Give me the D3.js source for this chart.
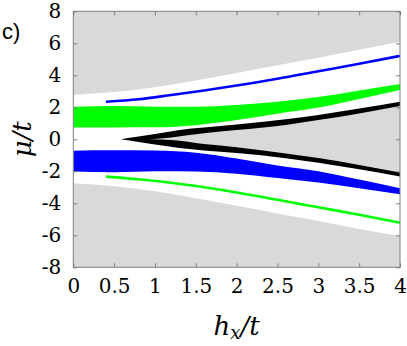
<!DOCTYPE html>
<html>
<head>
<meta charset="utf-8">
<script src="https://cdn.jsdelivr.net/npm/d3@7"></script>
<style>
  body { margin: 0; background: #fff; }
  svg { display: block; }
  .serif { font-family: "DejaVu Serif", "Liberation Serif", serif; }
</style>
</head>
<body>
<div id="chart"></div>
<script>
// boundaries of the gray regions [hx, mu]
var grayTop = [[0, 2.77], [0.5, 2.95], [1.0, 3.25], [1.5, 3.68], [2.0, 4.15], [2.5, 4.63], [3.0, 5.1], [3.5, 5.6], [4.0, 6.1]];
var grayBottom = [[0, -2.75], [0.5, -2.93], [1.0, -3.25], [1.5, -3.68], [2.0, -4.15], [2.5, -4.63], [3.0, -5.1], [3.5, -5.6], [4.0, -6.05]];

// thin lines [hx, mu]
var blueLine = [[0.4, 2.35], [0.8, 2.5], [1.2, 2.77], [1.6, 3.05], [2.0, 3.36], [2.5, 3.78], [3.0, 4.25], [3.5, 4.72], [4.0, 5.21]];
var greenLine = [[0.4, -2.33], [0.8, -2.5], [1.2, -2.72], [1.6, -3.0], [2.0, -3.32], [2.5, -3.78], [3.0, -4.25], [3.5, -4.72], [4.0, -5.21]];

// bands [hx, low, high]
var greenBand = [[0, 0.73, 2.04], [0.5, 0.74, 2.08], [1.0, 0.75, 2.04], [1.5, 0.88, 2.04], [2.0, 1.2, 2.15], [2.5, 1.6, 2.35], [3.0, 1.98, 2.64], [3.5, 2.52, 3.05], [4.0, 3.08, 3.46]];
var blueBand = [[0, -2.02, -0.71], [0.5, -2.06, -0.69], [1.0, -2.0, -0.7], [1.5, -2.02, -0.84], [2.0, -2.15, -1.2], [2.5, -2.42, -1.63], [3.0, -2.7, -2.0], [3.5, -3.06, -2.52], [4.0, -3.44, -3.06]];
var blackWedge = [[0.58, 0, 0], [0.8, -0.17, 0.17], [1.0, -0.33, 0.33], [1.3, -0.55, 0.58], [1.6, -0.7, 0.73], [2.0, -0.86, 0.92], [2.6, -1.18, 1.26], [3.0, -1.46, 1.52], [3.5, -1.87, 1.92], [4.0, -2.33, 2.35]];
var wedgeInside = [[0.94, 0, 0], [1.2, -0.05, 0.12], [1.6, -0.3, 0.38], [2.0, -0.5, 0.58], [2.6, -0.88, 0.9], [3.0, -1.17, 1.2], [3.5, -1.6, 1.62], [4.0, -2.08, 2.08]];

var xTicks = [0, 0.5, 1, 1.5, 2, 2.5, 3, 3.5, 4];
var yTicks = [8, 6, 4, 2, 0, -2, -4, -6, -8];

var W = 407, H = 346;
var margin = {top: 11.3, right: 7, bottom: 78.7, left: 73.3};
var width = W - margin.left - margin.right,
    height = H - margin.top - margin.bottom;

var svg = d3.select("#chart").append("svg")
  .attr("width", W)
  .attr("height", H);

var g = svg.append("g")
  .attr("transform", "translate(" + margin.left + "," + margin.top + ")");

var x = d3.scaleLinear().domain([0, 4]).range([0, width]);
var y = d3.scaleLinear().domain([-8, 8]).range([height, 0]);

var gray = "#d9d9d9";

g.append("defs").append("clipPath").attr("id", "clip")
  .append("rect").attr("width", width).attr("height", height);
var plot = g.append("g").attr("clip-path", "url(#clip)");

// gray regions outside
plot.append("path")
  .datum(grayTop)
  .attr("fill", gray)
  .attr("d", d3.area().curve(d3.curveMonotoneX)
    .x(function(d) { return x(d[0]); })
    .y0(y(8))
    .y1(function(d) { return y(d[1]); }));

plot.append("path")
  .datum(grayBottom)
  .attr("fill", gray)
  .attr("d", d3.area().curve(d3.curveMonotoneX)
    .x(function(d) { return x(d[0]); })
    .y0(y(-8))
    .y1(function(d) { return y(d[1]); }));

var band = d3.area().curve(d3.curveMonotoneX)
  .x(function(d) { return x(d[0]); })
  .y0(function(d) { return y(d[1]); })
  .y1(function(d) { return y(d[2]); });

plot.append("path").datum(greenBand).attr("fill", "#00ff00").attr("d", band);
plot.append("path").datum(blueBand).attr("fill", "#0000ff").attr("d", band);
plot.append("path").datum(blackWedge).attr("fill", "#000").attr("d", band);
plot.append("path").datum(wedgeInside).attr("fill", gray).attr("d", band);

var line = d3.line().curve(d3.curveMonotoneX)
  .x(function(d) { return x(d[0]); })
  .y(function(d) { return y(d[1]); });

plot.append("path").datum(blueLine)
  .attr("fill", "none").attr("stroke", "#0000ff").attr("stroke-width", 2.6).attr("d", line);
plot.append("path").datum(greenLine)
  .attr("fill", "none").attr("stroke", "#00ff00").attr("stroke-width", 2.6).attr("d", line);

// axes, ticks inside on all sides
var axisColor = "#7f7f7f";
var tl = 4;

function styleAxis(sel) {
  sel.attr("font-family", null).attr("font-size", null);
  sel.select(".domain").remove();
  sel.selectAll(".tick line").attr("stroke", axisColor);
  sel.selectAll(".tick text")
    .attr("class", "serif")
    .attr("fill", "#000")
    .style("font-size", "20px");
}

g.append("g").attr("transform", "translate(0," + height + ")")
  .call(d3.axisBottom(x).tickValues(xTicks).tickSizeInner(-tl).tickSizeOuter(0).tickPadding(12)
    .tickFormat(function(d) { return String(d); }))
  .call(styleAxis);

g.append("g")
  .call(d3.axisTop(x).tickValues(xTicks).tickSizeInner(-tl).tickSizeOuter(0).tickFormat(""))
  .call(styleAxis);

g.append("g")
  .call(d3.axisLeft(y).tickValues(yTicks).tickSizeInner(-tl).tickSizeOuter(0).tickPadding(12)
    .tickFormat(function(d) { return d < 0 ? "-" + Math.abs(d) : String(d); }))
  .call(styleAxis);

g.append("g").attr("transform", "translate(" + width + ",0)")
  .call(d3.axisRight(y).tickValues(yTicks).tickSizeInner(-tl).tickSizeOuter(0).tickFormat(""))
  .call(styleAxis);

g.append("rect")
  .attr("width", width)
  .attr("height", height)
  .attr("fill", "none")
  .attr("stroke", axisColor)
  .attr("stroke-width", 1);

// labels
var xl = svg.append("text")
  .attr("class", "serif")
  .attr("x", margin.left + width / 2)
  .attr("y", 335)
  .attr("text-anchor", "middle")
  .style("font-style", "italic")
  .style("font-size", "26px");
xl.append("tspan").text("h");
xl.append("tspan").attr("dy", 4).style("font-size", "18px").text("x");
xl.append("tspan").attr("dy", -4).text("/t");

svg.append("text")
  .attr("class", "serif")
  .attr("transform", "translate(31," + (margin.top + height / 2) + ") rotate(-90)")
  .attr("text-anchor", "middle")
  .style("font-style", "italic")
  .style("font-size", "26px")
  .text("\u03bc/t");

svg.append("text")
  .attr("x", 2)
  .attr("y", 39)
  .style("font-family", "'Liberation Sans', Arial, sans-serif")
  .style("font-size", "22px")
  .text("c)");
</script>
</body>
</html>
